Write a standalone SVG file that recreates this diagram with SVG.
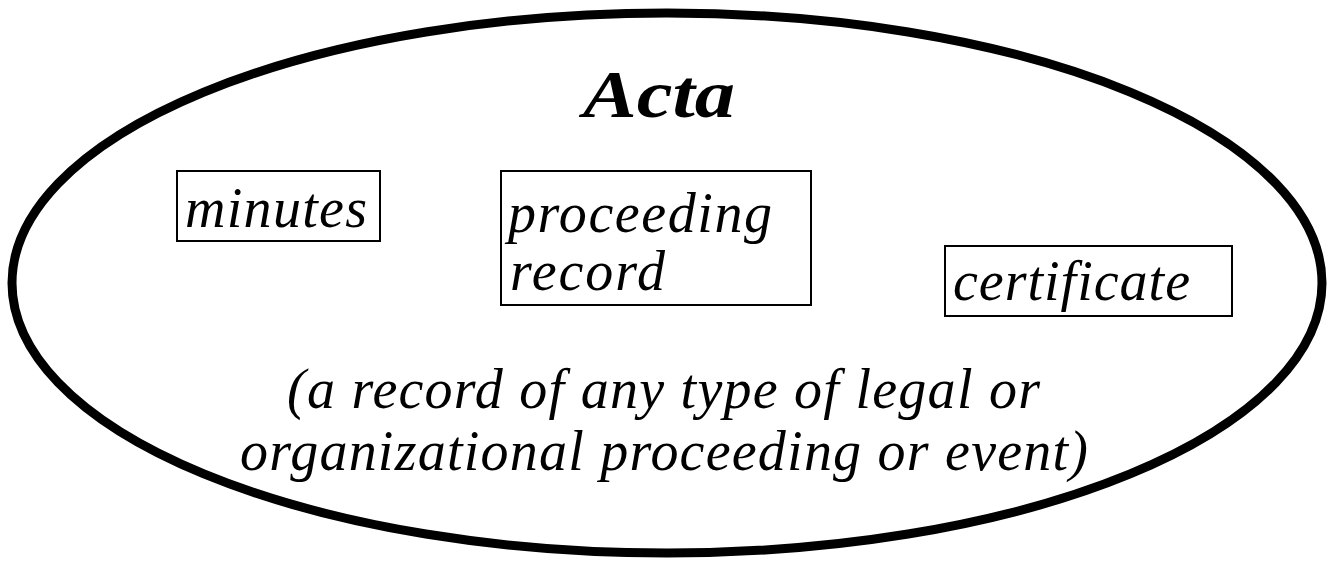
<svg xmlns="http://www.w3.org/2000/svg" width="1332" height="563" viewBox="0 0 1332 563">
  <style>
    .frame { fill: #ffffff; stroke: #000000; stroke-width: 9; }
    .box { fill: #ffffff; stroke: #000000; stroke-width: 2; }
    .label { font-family: "Liberation Serif", "Times New Roman", serif; font-style: italic; font-size: 56px; fill: #000000; }
    .title { font-family: "Liberation Serif", "Times New Roman", serif; font-style: italic; font-weight: bold; font-size: 68px; fill: #000000; }
  </style>
  <rect width="1332" height="563" fill="#ffffff"/>

  <!-- outer set boundary -->
  <g id="acta">
    <ellipse class="frame" cx="667" cy="283" rx="655" ry="270"/>
    <text class="title" x="583" y="117" textLength="152" lengthAdjust="spacingAndGlyphs">Acta</text>
  </g>

  <g id="minutes">
    <rect class="box" x="177" y="171" width="203" height="70"/>
    <text class="label" x="185" y="227" textLength="182" lengthAdjust="spacing">minutes</text>
  </g>

  <g id="proceeding-record">
    <rect class="box" x="501" y="171" width="310" height="134"/>
    <text class="label" x="508" y="232" textLength="264" lengthAdjust="spacing">proceeding</text>
    <text class="label" x="510" y="290" textLength="155" lengthAdjust="spacing">record</text>
  </g>

  <g id="certificate">
    <rect class="box" x="945" y="246" width="287" height="70"/>
    <text class="label" x="953" y="300" textLength="237" lengthAdjust="spacing">certificate</text>
  </g>

  <g id="description">
    <text class="label" x="287" y="408" textLength="753" lengthAdjust="spacing">(a record of any type of legal or</text>
    <text class="label" x="240" y="470" textLength="848" lengthAdjust="spacing">organizational proceeding or event)</text>
  </g>

  <g id="connectors"/>
</svg>
